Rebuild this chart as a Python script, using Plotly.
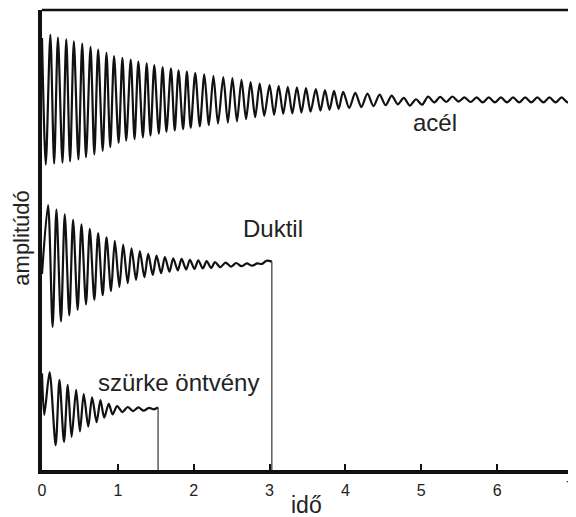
import plotly.graph_objects as go

# ---- data (time in s, deflection in arbitrary units) ----
acel_t = [0.00, 0.05, 0.11, 0.16, 0.21, 0.27, 0.32, 0.37, 0.42, 0.48, 0.53, 0.58, 0.64, 0.69, 0.74,
          0.80, 0.85, 0.90, 0.95, 1.01, 1.06, 1.11, 1.17, 1.22, 1.27, 1.33, 1.38, 1.43, 1.48, 1.54,
          1.59, 1.64, 1.70, 1.75, 1.80, 1.86, 1.91, 1.96,
          2.02, 2.08, 2.14, 2.20, 2.26, 2.32, 2.39, 2.45, 2.51, 2.57, 2.63, 2.69, 2.75, 2.81, 2.87,
          2.93, 3.00, 3.06, 3.12, 3.18, 3.24, 3.30, 3.36, 3.42, 3.48, 3.54, 3.61, 3.67, 3.73, 3.79,
          3.85, 3.91, 3.97,
          4.05, 4.13, 4.21, 4.29, 4.37, 4.45, 4.53, 4.61, 4.69, 4.77, 4.85, 4.93, 5.01, 5.09, 5.17,
          5.25, 5.33, 5.41, 5.49, 5.57, 5.65, 5.73, 5.81, 5.89, 5.97, 6.05, 6.13, 6.21, 6.29, 6.37,
          6.45, 6.53, 6.61, 6.69, 6.77, 6.85, 6.93, 7.00]
acel_v = [13.5, -14.0, 14.2, -13.8, 13.6, -13.6, 13.2, -13.3, 12.8, -12.9, 12.3, -12.4, 11.6, -11.8, 11.0,
          -11.0, 10.3, -10.2, 9.6, -9.3, 9.2, -8.8, 8.8, -8.5, 8.4, -8.1, 8.0, -7.7, 7.6, -7.3,
          7.2, -6.9, 6.9, -6.6, 6.5, -6.3, 6.2, -6.0,
          5.9, -5.7, 5.6, -5.4, 5.3, -5.1, 5.0, -4.9, 4.8, -4.6, 4.4, -4.1, 3.9, -3.7, 3.6,
          -3.4, 3.3, -3.2, 3.1, -3.0, 2.9, -2.9, 2.8, -2.7, 2.6, -2.5, 2.4, -2.3, 2.2, -2.1,
          2.0, -1.9, 1.8,
          -1.7, 1.6, -1.5, 1.4, -1.3, 1.2, -1.1, 1.0, -0.9, 0.5, -1.2, 0.2, -1.0, 0.8, -0.5,
          0.7, -0.4, 0.8, -0.3, 0.6, -0.4, 0.6, -0.5, 0.6, -0.5, 0.6, -0.5, 0.6, -0.5, 0.6,
          -0.5, 0.6, -0.5, 0.6, -0.5, 0.6, -0.5, 0.3]

duktil_t = [0.00, 0.08, 0.14, 0.19, 0.25, 0.30, 0.36, 0.41, 0.47, 0.52, 0.58, 0.63, 0.69, 0.74, 0.80,
            0.85, 0.91, 0.96, 1.02, 1.07, 1.13, 1.18, 1.24, 1.29, 1.35, 1.40, 1.46, 1.51, 1.57, 1.62,
            1.68, 1.73, 1.79, 1.84, 1.90, 1.95, 2.01, 2.06, 2.12, 2.17, 2.23, 2.28, 2.35, 2.42, 2.49,
            2.56, 2.63, 2.70, 2.77, 2.84, 2.90, 2.96, 3.03]
duktil_v = [-2.0, 13.0, -13.5, 12.0, -12.3, 11.0, -11.0, 9.8, -9.8, 8.8, -8.6, 7.8, -7.6, 6.9, -6.6,
            6.0, -5.7, 5.2, -4.8, 4.4, -4.0, 3.6, -3.3, 3.0, -2.7, 2.4, -2.2, 2.0, -1.8, 1.7,
            -1.5, 1.4, -1.2, 1.3, -1.0, 1.1, -0.9, 1.0, -0.8, 0.8, -0.7, 0.6, -0.5, 0.5, -0.4,
            0.4, -0.3, 0.3, -0.2, 0.3, 0.2, 0.9, 0.7]

szurke_t = [0.00, 0.03, 0.10, 0.18, 0.23, 0.29, 0.34, 0.39, 0.45, 0.50, 0.55, 0.61, 0.66, 0.72, 0.77,
            0.82, 0.88, 0.93, 0.99, 1.06, 1.13, 1.20, 1.27, 1.34, 1.41, 1.47, 1.53]
szurke_v = [8.0, -1.0, 8.3, -7.6, 6.6, -6.9, 5.5, -5.8, 4.4, -4.6, 3.5, -3.6, 2.8, -2.6, 2.2,
            -1.6, 1.4, -0.9, 0.9, -0.4, 0.7, -0.2, 0.6, -0.1, 0.5, 0.2, 0.6]

# vertical offsets of the three traces on the (unlabelled) amplitude axis
acel_base = 80.4
duktil_base = 44.6
szurke_base = 13.0

x_ticks = [0, 1, 2, 3, 4, 5, 6, 7]
x_ticklabels = ["0", "1", "2", "3", "4", "5", "6", "7"]

labels = ["acél", "Duktil", "szürke öntvény"]
label_x = [5.18, 3.04, 1.80]
label_y = [75.5, 52.4, 19.1]

ink = "#111111"
txt_font = "Liberation Sans, Arial, sans-serif"
fig = go.Figure()

for t, v, base in [(acel_t, acel_v, acel_base),
                   (duktil_t, duktil_v, duktil_base),
                   (szurke_t, szurke_v, szurke_base)]:
    fig.add_trace(go.Scatter(x=t, y=[base + a for a in v], mode="lines",
                             line=dict(color=ink, width=2.2, shape="spline", smoothing=0.8),
                             showlegend=False, hoverinfo="skip"))

# the vertical drop at the end of the two shorter records
for t, v, base in [(duktil_t, duktil_v, duktil_base), (szurke_t, szurke_v, szurke_base)]:
    fig.add_trace(go.Scatter(x=[t[-1], t[-1]], y=[base + v[-1], 0], mode="lines",
                             line=dict(color="#333333", width=1.2), showlegend=False, hoverinfo="skip"))

for txt, lx, ly in zip(labels, label_x, label_y):
    fig.add_annotation(x=lx, y=ly, text=txt, showarrow=False, xanchor="center", yanchor="middle",
                       font=dict(family=txt_font, size=24, color="#222222"))

fig.add_annotation(xref="paper", yref="paper", x=-0.0377, y=0.505, text="amplitúdó",
                   textangle=-90, showarrow=False, xanchor="center", yanchor="middle",
                   font=dict(family=txt_font, size=22, color="#222222"))
fig.add_annotation(xref="x", yref="paper", x=3.49, y=-0.077, text="idő", showarrow=False,
                   xanchor="center", yanchor="middle",
                   font=dict(family=txt_font, size=23, color="#222222"))

# the last tick label sits at the very edge of the picture; plotly hides it, so pin it inside
fig.add_annotation(xref="paper", yref="paper", x=1.0056, y=-0.039, text=x_ticklabels[-1],
                   showarrow=False, xanchor="right", yanchor="middle", borderpad=0,
                   font=dict(family=txt_font, size=16, color="#222222"))

# top and right frame lines
fig.add_shape(type="line", xref="paper", yref="paper", x0=0, x1=1, y0=1, y1=1,
              line=dict(color=ink, width=2.5))
fig.add_shape(type="line", xref="paper", yref="paper", x0=1, x1=1, y0=0, y1=1,
              line=dict(color=ink, width=2.5))

# the page body has an 8 px margin; size the figure so the plot lands where the reference has it
fig.update_layout(
    width=568, height=509,
    margin=dict(l=34, r=3, t=2, b=47),
    paper_bgcolor="white", plot_bgcolor="white",
    xaxis=dict(range=[0, 7], tickvals=x_ticks, ticktext=x_ticklabels,
               ticks="inside", ticklen=6, tickwidth=2, tickcolor=ink,
               showline=True, linewidth=4, linecolor=ink, mirror=False,
               showgrid=False, zeroline=False, ticklabelstandoff=3,
               tickfont=dict(family=txt_font, size=16, color="#222222")),
    yaxis=dict(range=[0, 100], showticklabels=False, ticks="",
               showline=True, linewidth=4, linecolor=ink,
               showgrid=False, zeroline=False),
)

fig.write_html("out.html")
